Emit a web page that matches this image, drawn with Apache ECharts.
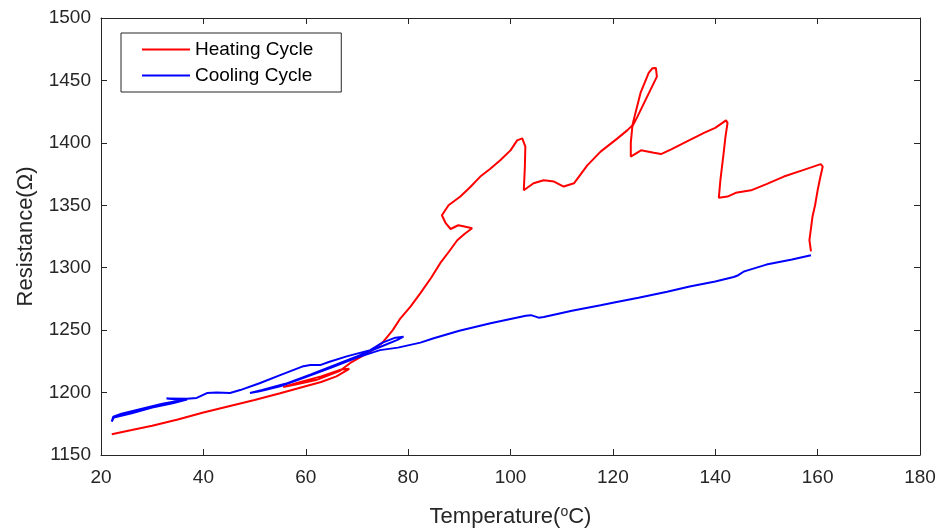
<!DOCTYPE html>
<html lang="en">
<head>
    <meta charset="UTF-8">
    <title>Resistance vs Temperature</title>
    <script type="text/javascript" src="https://cdn.jsdelivr.net/npm/echarts@6/dist/echarts.min.js"></script>
    <style>
        html, body { margin: 0; padding: 0; background: #fff; }
        #chart { width: 943px; height: 532px; }
    </style>
</head>
<body>
<div id="chart"></div>
<script type="text/javascript">
    // 数据：加热曲线
    var heatT = [22.1, 26, 30, 35, 40, 44.6, 50, 55, 59.6, 63, 66, 68.5, 67, 63, 59, 55.6, 58, 62, 66.7, 68.7,
        70.5, 72.6, 75, 77, 78.5, 80.5, 82.4, 84.5, 86.3, 88, 89.6, 91, 92.5, 91, 89.8, 88.3, 87.3, 86.6, 87.9, 90.2,
        92, 94.1, 96, 98, 100, 101.3, 102.3, 102.9, 102.8, 102.6, 104.5, 106.5, 108.5, 110.4, 112.4, 115, 117.6, 120.9, 122.8, 123.8,
        125.4, 127, 127.7, 128.4, 128.6, 126.7, 124.8, 123.8, 123.5, 123.5, 125.5, 128, 129.4, 131.5, 133.9, 137.8, 140, 142.1, 142.4, 142,
        141.7, 141, 140.7, 142.4, 144, 147, 150, 153.4, 157, 160.6, 161, 160.5, 160, 159.5, 159, 158.4, 158.7];
    var heatR = [1166.6, 1170, 1173.5, 1178.5, 1184, 1188.7, 1194, 1199.5, 1204.7, 1208.5, 1213, 1219, 1218.5, 1213, 1208.5, 1204.5, 1206.5, 1210, 1217.5, 1223.7,
        1228, 1232.7, 1240, 1250, 1259.5, 1269, 1279.7, 1292, 1303.8, 1313, 1322, 1327, 1331.6, 1333, 1334, 1331, 1336, 1342, 1350, 1357,
        1364, 1373, 1379, 1386, 1394, 1402, 1403.6, 1397, 1380, 1362, 1367.6, 1370, 1369, 1365, 1367.6, 1382, 1393, 1403.6, 1410, 1414,
        1440, 1456, 1459.7, 1460, 1453, 1437, 1421, 1413, 1400, 1389, 1394, 1392, 1391, 1395, 1400, 1408, 1412, 1418, 1416, 1405,
        1394, 1370, 1356, 1357, 1360, 1362, 1367, 1373, 1378, 1383, 1381, 1372, 1362, 1350, 1341, 1322, 1313];

    // 数据：冷却曲线
    var coolT = [158.7, 155, 150, 146, 145.6, 144.5, 143.6, 140, 135, 130.6, 125, 120, 117.6, 112, 106.5, 105.5, 104, 103, 100, 96.1,
        90, 85, 82.4, 78, 74.5, 70, 65, 60, 55, 51, 49.1, 51.5, 56, 61, 66, 70, 74.5, 77.8, 79.1, 77.5,
        75, 72.6, 68, 64.5, 62.8, 60.9, 59.3, 55, 51.1, 47.2, 45.2, 42.6, 40.7, 38.7, 36.8, 32.8, 36, 32, 28, 24,
        22.4, 22.1, 22.5, 26, 30, 34, 36.8];
    var coolR = [1310, 1306.5, 1302.5, 1297.5, 1297, 1294, 1292.6, 1289, 1285, 1280.8, 1276, 1272, 1270, 1265.5, 1260.5, 1260, 1262, 1261.5, 1259, 1255.5,
        1249.5, 1243.5, 1240, 1236, 1234, 1228, 1220, 1212.5, 1205, 1201, 1199.6, 1202, 1207, 1214.5, 1222.5, 1229, 1236.5, 1242, 1244.8, 1244,
        1240, 1234, 1229, 1224.5, 1222, 1222, 1220.8, 1214, 1207.7, 1202, 1199.6, 1200, 1199.6, 1195.7, 1195, 1195.3, 1194, 1191, 1187, 1183,
        1180.7, 1176.7, 1180, 1183.5, 1188, 1191.5, 1194.5];

    var xTicks = {min: 20, max: 180, interval: 20};
    var yTicks = {min: 1150, max: 1500, interval: 50};

    function pairs(xs, ys) {
        var out = [];
        for (var i = 0; i < xs.length; i++) {
            out.push([xs[i], ys[i]]);
        }
        return out;
    }

    var font = 'Liberation Sans, Arial, Helvetica, sans-serif';
    var axisColor = '#262626';

    function boxAxis(base, pos, labels) {
        return {
            type: 'value',
            position: pos,
            min: base.min,
            max: base.max,
            interval: base.interval,
            splitLine: {show: false},
            axisLine: {show: true, onZero: false, lineStyle: {color: axisColor, width: 1}},
            axisTick: {show: true, inside: true, length: 6, lineStyle: {color: axisColor}},
            axisLabel: {
                show: labels, color: axisColor, fontSize: 19, fontFamily: font,
                formatter: function (v) { return String(v); }
            }
        };
    }

    var chart = echarts.init(document.getElementById('chart'));
    var xBottom = boxAxis(xTicks, 'bottom', true);
    xBottom.axisLabel.margin = 13;
    xBottom.name = 'Temperature({sup|o}C)';
    xBottom.nameLocation = 'middle';
    xBottom.nameGap = 50;
    xBottom.nameTextStyle = {
        color: axisColor, fontSize: 22, fontFamily: font,
        rich: {sup: {fontSize: 14, verticalAlign: 'top', padding: [0, 0, 10, 0], color: axisColor, fontFamily: font}}
    };
    var yLeft = boxAxis(yTicks, 'left', true);
    yLeft.axisLabel.margin = 10;
    yLeft.name = 'Resistance(Ω)';
    yLeft.nameLocation = 'middle';
    yLeft.nameRotate = 90;
    yLeft.nameGap = 64;
    yLeft.nameTextStyle = {color: axisColor, fontSize: 22, fontFamily: font};

    var option = {
        animation: false,
        backgroundColor: '#ffffff',
        grid: {left: 101, right: 23, top: 18, bottom: 77, containLabel: false, outerBoundsMode: 'none'},
        legend: {
            orient: 'vertical',
            left: 121,
            top: 33,
            padding: [7, 28, 7, 21],
            itemGap: 7,
            itemWidth: 48,
            itemHeight: 2,
            icon: 'rect',
            backgroundColor: '#ffffff',
            borderColor: axisColor,
            borderWidth: 1,
            borderRadius: 0,
            textStyle: {color: '#000000', fontSize: 19, fontFamily: font},
            data: ['Heating Cycle', 'Cooling Cycle']
        },
        xAxis: [xBottom, boxAxis(xTicks, 'top', false)],
        yAxis: [yLeft, boxAxis(yTicks, 'right', false)],
        series: [
            {
                name: 'Heating Cycle',
                type: 'line',
                data: pairs(heatT, heatR),
                showSymbol: false,
                symbol: 'none',
                color: '#ff0000',
                lineStyle: {color: '#ff0000', width: 2}
            },
            {
                name: 'Cooling Cycle',
                type: 'line',
                data: pairs(coolT, coolR),
                showSymbol: false,
                symbol: 'none',
                color: '#0000ff',
                lineStyle: {color: '#0000ff', width: 2}
            }
        ]
    };
    chart.setOption(option);
</script>
</body>
</html>
